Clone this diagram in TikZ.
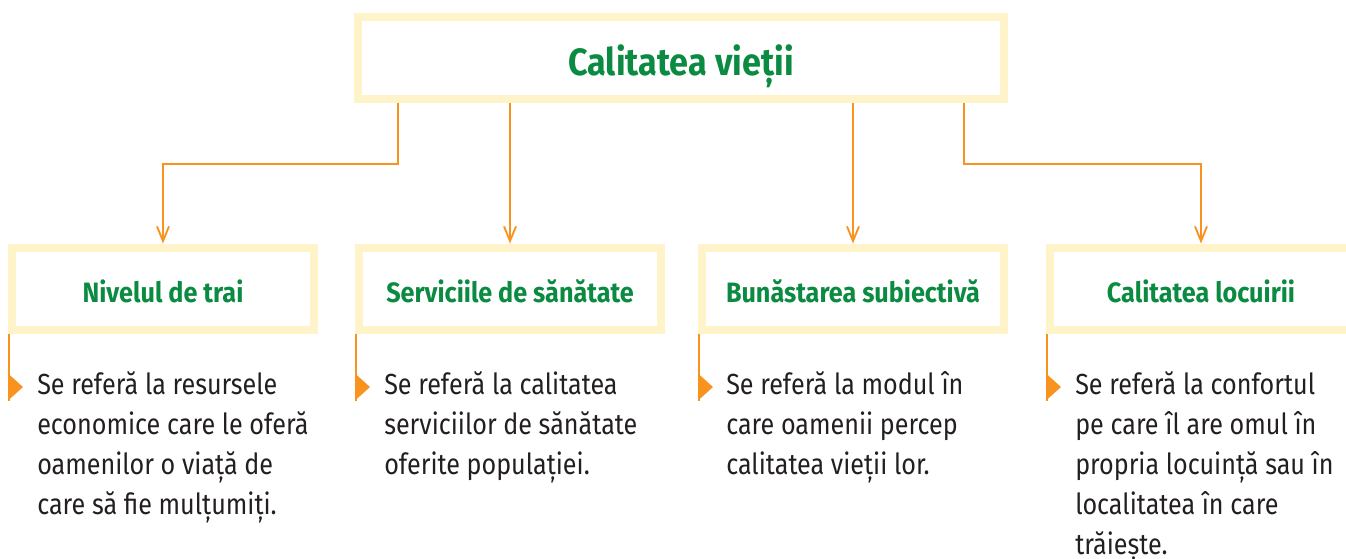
\documentclass[tikz,border=0pt]{standalone}
\usepackage{fontspec}
\setmainfont[FakeStretch=0.9]{Fira Sans}
\newfontfamily\notefont[FakeStretch=0.865]{Fira Sans}
\usepackage{tikz}
\usetikzlibrary{positioning,arrows.meta,calc,shadows}
\definecolor{cream}{HTML}{FFF3C9}
\definecolor{leaf}{HTML}{0B8B41}
\definecolor{amber}{HTML}{F7931E}
\definecolor{ink}{HTML}{231F20}

\begin{document}
\begin{tikzpicture}[x=0.75pt,y=-0.75pt,
   panel/.style={draw=cream,line width=6pt,fill=white,minimum width=226.5pt,minimum height=61.5pt,
     inner sep=0pt,text=leaf,font=\bfseries\fontsize{21}{24}\selectfont,text depth=0pt,text height=20.5pt,
     drop shadow={opacity=0.06,shadow xshift=1pt,shadow yshift=-1pt}},
   link/.style={draw=amber,line width=1.4pt,-{Straight Barb[length=11pt,width=9pt]}},
   note/.style={anchor=north west,inner sep=0pt,align=left,text=ink,font=\notefont\fontsize{21.8}{30}\selectfont}]
\useasboundingbox (0,0) rectangle (1346,558);
% main box and the four topics
\node[panel,minimum width=484.5pt,font=\bfseries\fontsize{28.5}{32}\selectfont,text height=26.4pt] (top) at (681,58) {Calitatea vieții};
\node[panel] (b1) at (163,288.5) {Nivelul de trai};
\node[panel] (b2) at (510,288.5) {Serviciile de sănătate};
\node[panel] (b3) at (853,288.5) {Bunăstarea subiectivă};
\node[panel] (b4) at (1201,288.5) {Calitatea locuirii};
% connectors
\draw[link] ($(top.south west)+(44,0)$) -- ++(0,61) -| (b1.north);
\draw[link] (top.south -| b2.north) -- (b2.north);
\draw[link] (top.south -| b3.north) -- (b3.north);
\draw[link] ($(top.south east)+(-44,0)$) -- ++(0,61) -| (b4.north);
% markers under each box
\foreach \b in {b1,b2,b3,b4}{
  \draw[draw=amber,line width=1.4pt] ($(\b.south west)+(1,0)$) -- ++(0,67);
  \fill[amber] ($(\b.south west)+(0,40)$) -- ++(15,13.5) -- ++(-15,13.5) -- cycle;
}
\node[note] (d1) at ($(b1.south west)+(29,38)$) {Se referă la resursele\\economice care le oferă\\oamenilor o viață de\\care să fie mulțumiți.};
\node[note] (d2) at ($(b2.south west)+(29,38)$) {Se referă la calitatea\\serviciilor de sănătate\\oferite populației.};
\node[note] (d3) at ($(b3.south west)+(28,38)$) {Se referă la modul în\\care oamenii percep\\calitatea vieții lor.};
\node[note] (d4) at ($(b4.south west)+(29,38)$) {Se referă la confortul\\pe care îl are omul în\\propria locuință sau în\\localitatea în care\\trăiește.};
\end{tikzpicture}
\end{document}
